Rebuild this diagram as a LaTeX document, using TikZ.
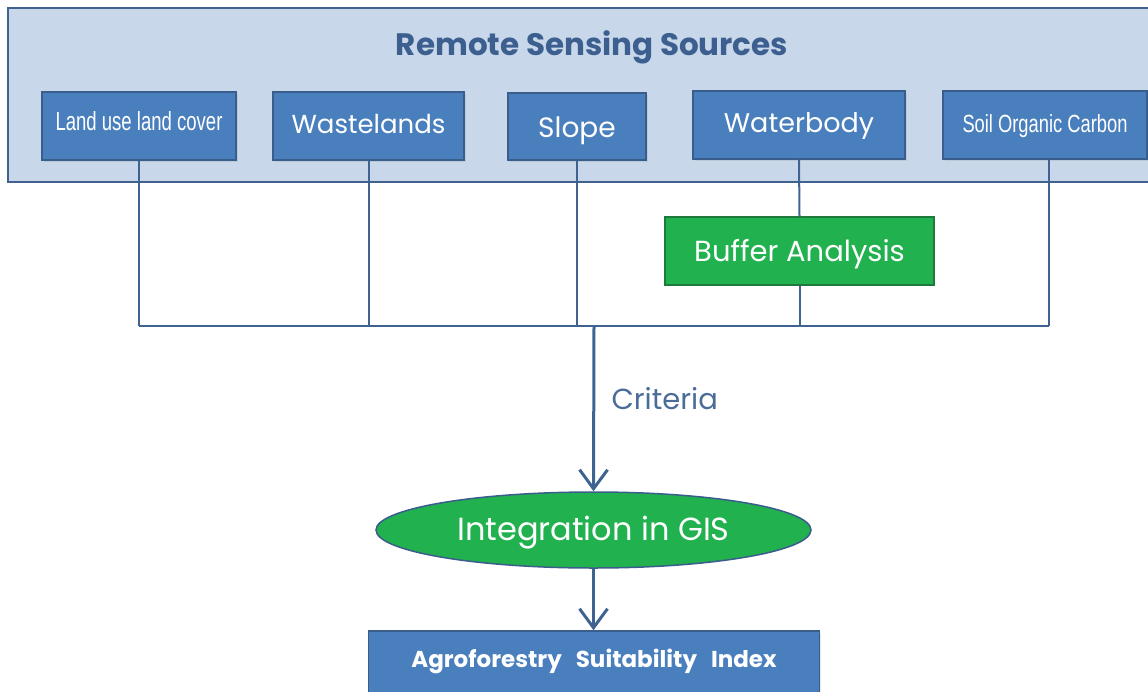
\documentclass[tikz,border=0pt]{standalone}
\usepackage{fontspec}
\setmainfont{Poppins}
\newfontfamily\condfont{Liberation Sans}
\usetikzlibrary{shapes.geometric,arrows.meta,shadows}
\definecolor{frameblue}{HTML}{41628F}
\definecolor{panel}{HTML}{C8D8EA}
\definecolor{boxblue}{HTML}{4A7FBE}
\definecolor{boxedge}{HTML}{3A5E8C}
\definecolor{bgreen}{HTML}{22B14F}
\definecolor{dgreen}{HTML}{1D7A3B}
\definecolor{lineblue}{HTML}{3F6391}
\definecolor{textblue}{HTML}{3D5F8F}
\definecolor{critblue}{HTML}{4A6C98}
\tikzset{
  srcbox/.style={draw=boxedge, line width=1.5pt, fill=boxblue, text=white, inner sep=0pt,
    rectangle, drop shadow={shadow xshift=1.5pt, shadow yshift=-1.5pt, opacity=0.18}},
  greenbox/.style={draw=dgreen, line width=1.5pt, fill=bgreen, text=white, inner sep=0pt, rectangle},
  conn/.style={draw=lineblue, line width=2pt},
  arr/.style={draw=lineblue, line width=3pt, -{Straight Barb[length=19pt,width=28pt,line width=3pt]}},
}
\begin{document}
\begin{tikzpicture}[x=1pt,y=-1pt]
\useasboundingbox (0,0) rectangle (1148,691);
\clip (0,0) rectangle (1148,691);
% panel
\node[draw=frameblue, line width=2pt, fill=panel, rectangle, inner sep=0pt,
      minimum width=1160pt, minimum height=174pt, anchor=north west] (panel) at (7,7) {};
\node[text=textblue, font=\bfseries\fontsize{31}{35}\selectfont, anchor=base] (title) at (592,55) {Remote Sensing Sources};
% source boxes
\node[srcbox, minimum width=194pt, minimum height=68pt, text height=19pt, text depth=11pt] (lulc) at (139,126)
  {\condfont\resizebox{167pt}{19pt}{Land use land cover}};
\node[srcbox, minimum width=191pt, minimum height=68pt, text height=20pt, text depth=6pt,
      font=\fontsize{26}{30}\selectfont] (waste) at (368.5,126) {Wastelands};
\node[srcbox, minimum width=138pt, minimum height=67pt, text height=24pt, text depth=3pt,
      font=\fontsize{28}{32}\selectfont] (slope) at (577,126.5) {Slope};
\node[srcbox, minimum width=212pt, minimum height=68pt, text height=20pt, text depth=6pt,
      font=\fontsize{27}{31}\selectfont] (water) at (799,125) {Waterbody};
\node[srcbox, minimum width=204pt, minimum height=68pt, text height=18pt, text depth=4pt] (soc) at (1045,125)
  {\condfont\resizebox{165pt}{18pt}{Soil Organic Carbon}};
% buffer
\node[greenbox, minimum width=269pt, minimum height=68pt, text height=20pt, text depth=0pt,
      font=\fontsize{29}{33}\selectfont] (buffer) at (799.5,251) {Buffer Analysis};
% junction
\coordinate (jl) at (139,326);
\coordinate (jr) at (1049,326);
\coordinate (j) at (594,326);
\draw[conn] (lulc.south) -- (lulc.south |- jl);
\draw[conn] (waste.south) -- (waste.south |- jl);
\draw[conn] (slope.south) -- (slope.south |- jl);
\draw[conn] (water.south) -- (buffer.north);
\draw[conn] (buffer.south) -- (buffer.south |- jl);
\draw[conn] (soc.south -| jr) -- (jr);
\draw[conn] (jl) -- (jr);
% GIS ellipse
\node[ellipse, draw=boxedge, line width=1.5pt, fill=bgreen, text=white, inner sep=0pt,
      minimum width=435pt, minimum height=76pt, text height=21pt, text depth=1pt,
      font=\fontsize{32}{36}\selectfont] (gis) at (593.5,530) {Integration in GIS};
\draw[arr] (j) -- (gis.north);
\node[text=critblue, font=\fontsize{29}{33}\selectfont, anchor=base west] (crit) at (608,409) {Criteria};
% bottom box
\node[srcbox, minimum width=451pt, minimum height=120pt, text height=17pt, text depth=65pt,
      font=\bfseries\fontsize{23}{27}\selectfont] (asi) at (594,691) {Agroforestry\hspace{14pt}Suitability\hspace{14pt}Index};
\draw[arr] (gis.south) -- (gis.south |- asi.north);
\end{tikzpicture}
\end{document}
